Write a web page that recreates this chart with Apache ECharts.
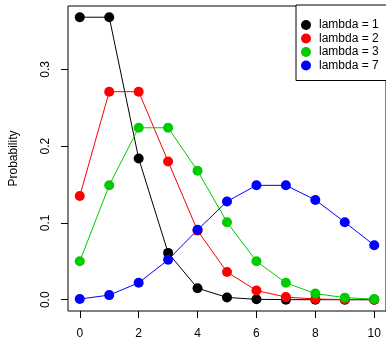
<!DOCTYPE html>
<html>
<head>
<meta charset="utf-8">
<script src="https://cdn.jsdelivr.net/npm/echarts@6/dist/echarts.min.js"></script>
<style>html,body{margin:0;padding:0;background:#fff;}#c{width:386px;height:340px;}</style>
</head>
<body>
<div id="c"></div>
<script>
var xValues = [0, 1, 2, 3, 4, 5, 6, 7, 8, 9, 10];
var lambda1 = [0.368, 0.368, 0.184, 0.061, 0.015, 0.003, 0.0005, 0.0001, 0.0000, 0.0000, 0.0000];
var lambda2 = [0.135, 0.271, 0.271, 0.180, 0.090, 0.036, 0.012, 0.0034, 0.0009, 0.0002, 0.0000];
var lambda3 = [0.050, 0.149, 0.224, 0.224, 0.168, 0.101, 0.050, 0.022, 0.008, 0.0027, 0.0008];
var lambda7 = [0.0009, 0.006, 0.022, 0.052, 0.091, 0.128, 0.149, 0.149, 0.130, 0.101, 0.071];
var seriesNames = ['lambda = 1', 'lambda = 2', 'lambda = 3', 'lambda = 7'];
var xTicks = [0, 2, 4, 6, 8, 10];
var yTicks = [0, 0.1, 0.2, 0.3];
var colors = ['#000000', '#FF0000', '#00CD00', '#0000FF'];

function pairs(ys) { return xValues.map(function (x, i) { return [x, ys[i]]; }); }
var allSeries = [lambda1, lambda2, lambda3, lambda7];

var chart = echarts.init(document.getElementById('c'), null, {renderer: 'canvas'});
var font = 'Liberation Sans, Arial, Helvetica, sans-serif';
chart.setOption({
  animation: false,
  backgroundColor: '#ffffff',
  textStyle: {fontFamily: font},
  grid: {left: 67, top: 6, width: 321, height: 305, show: true, borderColor: '#000', borderWidth: 1, backgroundColor: 'transparent'},
  xAxis: {
    type: 'value', min: -0.4, max: 10.4,
    axisLine: {show: false, onZero: false},
    splitLine: {show: false},
    axisTick: {show: true, length: 7, customValues: xTicks, lineStyle: {color: '#000'}},
    axisLabel: {customValues: xTicks, margin: 17, fontSize: 12, color: '#000', fontFamily: font}
  },
  yAxis: {
    type: 'value', min: -0.0147, max: 0.3826,
    name: 'Probability', nameLocation: 'middle', nameGap: 48, nameRotate: 90,
    nameTextStyle: {fontSize: 12, color: '#000', fontFamily: font},
    axisLine: {show: false, onZero: false},
    splitLine: {show: false},
    axisTick: {show: true, length: 7, customValues: yTicks, lineStyle: {color: '#000'}},
    axisLabel: {customValues: yTicks, rotate: 90, margin: 16, fontSize: 12, color: '#000', fontFamily: font,
      formatter: function (v) { return v.toFixed(1); }}
  },
  legend: {
    orient: 'vertical', left: 296, top: 5,
    icon: 'circle', itemWidth: 10, itemHeight: 10, itemGap: 1.5,
    padding: [14, 30, 9, 5],
    borderColor: '#000', borderWidth: 1, borderRadius: 0, backgroundColor: '#fff',
    textStyle: {fontSize: 12, color: '#000', fontFamily: font, lineHeight: 10, padding: [0, 0, 0, 3]},
    data: seriesNames
  },
  series: allSeries.map(function (ys, k) {
    return {
      name: seriesNames[k], type: 'line', data: pairs(ys),
      symbol: 'circle', symbolSize: 10, showSymbol: true,
      itemStyle: {color: colors[k]},
      lineStyle: {color: colors[k], width: 1},
      emphasis: {disabled: true}
    };
  })
});
</script>
</body>
</html>
